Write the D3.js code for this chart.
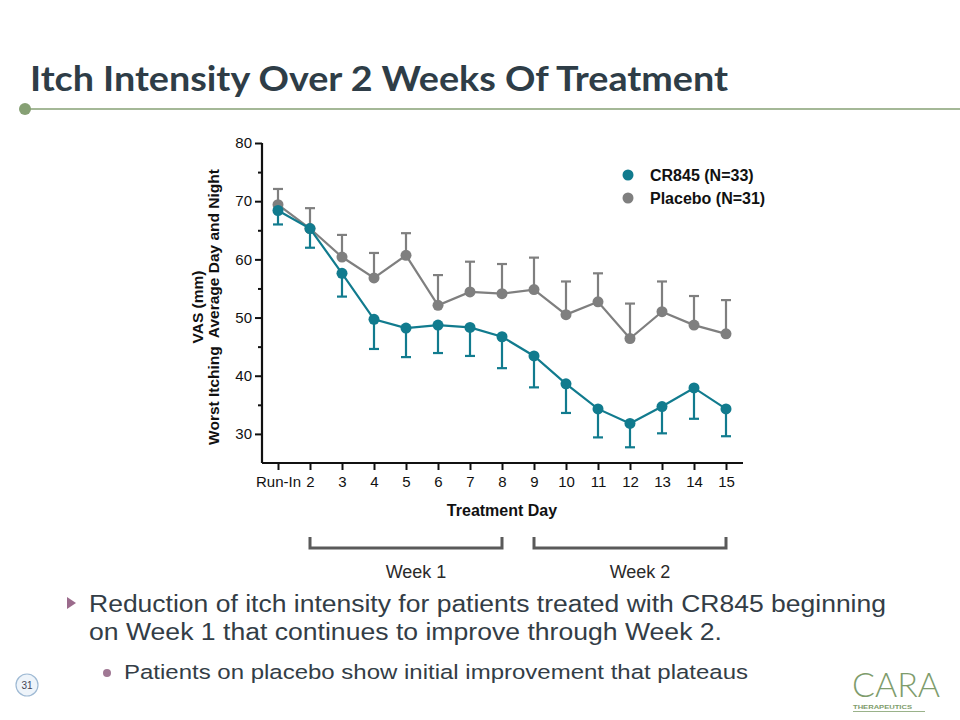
<!DOCTYPE html>
<html><head><meta charset="utf-8">
<script src="https://cdn.jsdelivr.net/npm/d3@7"></script>
<style>body{margin:0;background:#fff}svg{display:block}</style>
</head><body>
<script>
const days = ["Run-In","2","3","4","5","6","7","8","9","10","11","12","13","14","15"];
const cr845Mean = [68.4,65.3,57.6,49.7,48.2,48.7,48.3,46.7,43.4,38.6,34.3,31.8,34.7,37.9,34.3];
const cr845Low  = [66.0,62.0,53.6,44.6,43.2,43.9,43.4,41.3,38.0,33.6,29.4,27.7,30.1,32.6,29.6];
const placeboMean = [69.4,65.3,60.4,56.8,60.7,52.1,54.4,54.1,54.8,50.5,52.7,46.4,51.0,48.7,47.2];
const placeboHigh = [72.1,68.8,64.2,61.1,64.5,57.3,59.6,59.2,60.3,56.2,57.6,52.4,56.2,53.7,53.0];
const yTicks = [30,40,50,60,70,80];
const yMinorTicks = [35,45,55,65,75];
const seriesNames = ["CR845 (N=33)","Placebo (N=31)"];
const weeks = [{label:"Week 1", from:"2", to:"8"},{label:"Week 2", from:"9", to:"15"}];

const W=960,H=720;
const svg=d3.select("body").append("svg").attr("width",W).attr("height",H);
const teal="#117b8e", gray="#7f7f7f";
const sans="Liberation Sans, Arial";

// Title
svg.append("text").attr("x",30).attr("y",91).text("Itch Intensity Over 2 Weeks Of Treatment")
  .attr("font-family","Lato").attr("font-weight",700).attr("font-size",35).attr("fill","#2e3d47")
  .attr("textLength",698).attr("lengthAdjust","spacingAndGlyphs");
svg.append("line").attr("x1",25).attr("x2",960).attr("y1",109).attr("y2",109).attr("stroke","#86a074").attr("stroke-width",1.5);
svg.append("circle").attr("cx",25).attr("cy",109).attr("r",6).attr("fill","#86a074");

// Scales
const x=d3.scaleLinear().domain([0.5,15.5]).range([262,742]);
const y=d3.scaleLinear().domain([25,80]).range([463,143]);
const xi=i=>x(i+1);

const g=svg.append("g");
const yAx=g.append("g").attr("transform","translate(262,0)")
  .call(d3.axisLeft(y).tickValues(yTicks).tickSize(7).tickPadding(3).tickFormat(d3.format("d")));
g.append("g").attr("transform","translate(262,0)")
  .call(d3.axisLeft(y).tickValues(yMinorTicks).tickSize(4).tickFormat(""))
  .call(a=>a.select(".domain").remove());
const xAx=g.append("g").attr("transform","translate(0,463)")
  .call(d3.axisBottom(x).tickValues(d3.range(1,16)).tickSize(7).tickPadding(6).tickFormat((d,i)=>days[i]).tickSizeOuter(0));
g.selectAll(".domain").attr("stroke","#111").attr("stroke-width",2.2);
g.selectAll(".tick line").attr("stroke","#111").attr("stroke-width",2);
g.selectAll(".tick text").attr("font-family",sans).attr("font-size",15).attr("fill","#111");
yAx.selectAll(".domain").attr("d","M0,143V463");
xAx.select(".domain").attr("d","M262,0H743");

// Axis titles
svg.append("text").attr("x",502).attr("y",516).attr("text-anchor","middle")
  .attr("font-family",sans).attr("font-weight",700).attr("font-size",16).attr("fill","#111").text("Treatment Day");
const yl=svg.append("text").attr("transform","rotate(-90)")
  .attr("font-family",sans).attr("font-weight",700).attr("font-size",15.5).attr("fill","#111").attr("text-anchor","middle");
yl.append("tspan").attr("x",-307).attr("y",203).text("VAS (mm)");
yl.append("tspan").attr("x",-307).attr("y",219).attr("xml:space","preserve").text("Worst Itching  Average Day and Night");

function drawSeries(mean, bound, color){
  const s=svg.append("g");
  s.selectAll("line.eb").data(mean).join("line").attr("x1",(d,i)=>xi(i)).attr("x2",(d,i)=>xi(i))
    .attr("y1",d=>y(d)).attr("y2",(d,i)=>y(bound[i])).attr("stroke",color).attr("stroke-width",2.2);
  s.selectAll("line.cap").data(bound).join("line").attr("x1",(d,i)=>xi(i)-5).attr("x2",(d,i)=>xi(i)+5)
    .attr("y1",d=>y(d)).attr("y2",d=>y(d)).attr("stroke",color).attr("stroke-width",2.2);
  s.append("path").datum(mean).attr("d",d3.line().x((d,i)=>xi(i)).y(d=>y(d)))
    .attr("fill","none").attr("stroke",color).attr("stroke-width",2.2);
  s.selectAll("circle").data(mean).join("circle").attr("cx",(d,i)=>xi(i)).attr("cy",d=>y(d)).attr("r",5.5).attr("fill",color);
}
drawSeries(placeboMean,placeboHigh,gray);
drawSeries(cr845Mean,cr845Low,teal);

// Legend
[teal,gray].forEach((c,i)=>{
  svg.append("circle").attr("cx",628).attr("cy",175+i*23).attr("r",5.5).attr("fill",c);
  svg.append("text").attr("x",650).attr("y",180.5+i*23).text(seriesNames[i])
    .attr("font-family",sans).attr("font-weight",700).attr("font-size",16).attr("fill","#111");
});

// Week brackets
weeks.forEach(w=>{
  const x1=xi(days.indexOf(w.from)), x2=xi(days.indexOf(w.to));
  svg.append("path").attr("d",`M${x1},537V548H${x2}V537`).attr("fill","none").attr("stroke","#5a5a5a").attr("stroke-width",3);
  svg.append("text").attr("x",(x1+x2)/2+10).attr("y",578).attr("text-anchor","middle").text(w.label)
    .attr("font-family",sans).attr("font-size",18).attr("fill","#2a2a2a");
});

// Bullets
svg.append("path").attr("d","M67,597L76,603L67,609Z").attr("fill","#9b6b8c");
const bt=svg.append("g").attr("font-family",sans).attr("font-size",23.5).attr("fill","#333d46");
bt.append("text").attr("x",89).attr("y",612).attr("textLength",797).attr("lengthAdjust","spacingAndGlyphs")
  .text("Reduction of itch intensity for patients treated with CR845 beginning");
bt.append("text").attr("x",89).attr("y",640).attr("textLength",633).attr("lengthAdjust","spacingAndGlyphs")
  .text("on Week 1 that continues to improve through Week 2.");
svg.append("circle").attr("cx",107).attr("cy",673).attr("r",4).attr("fill","#a07894");
svg.append("text").attr("x",124).attr("y",679).attr("textLength",624).attr("lengthAdjust","spacingAndGlyphs")
  .text("Patients on placebo show initial improvement that plateaus")
  .attr("font-family",sans).attr("font-size",20.5).attr("fill","#333d46");

// Page number
svg.append("circle").attr("cx",27).attr("cy",685).attr("r",11).attr("fill","#eef4fa").attr("stroke","#9fbad4").attr("stroke-width",1.2);
svg.append("text").attr("x",27).attr("y",689).attr("text-anchor","middle").text("31")
  .attr("font-family",sans).attr("font-size",10).attr("fill","#445");

// Logo
svg.append("text").attr("x",852).attr("y",697).text("CARA").attr("font-family","Lato").attr("font-weight",300)
  .attr("font-size",33).attr("fill","#7e9c6c").attr("textLength",88).attr("lengthAdjust","spacingAndGlyphs");
svg.append("text").attr("x",853).attr("y",709).text("THERAPEUTICS").attr("font-family",sans)
  .attr("font-size",5).attr("font-weight",700).attr("fill","#7e9c6c").attr("textLength",59).attr("lengthAdjust","spacingAndGlyphs");
svg.append("line").attr("x1",853).attr("x2",925).attr("y1",711.5).attr("y2",711.5).attr("stroke","#9ab28a").attr("stroke-width",1);
</script>
</body></html>
